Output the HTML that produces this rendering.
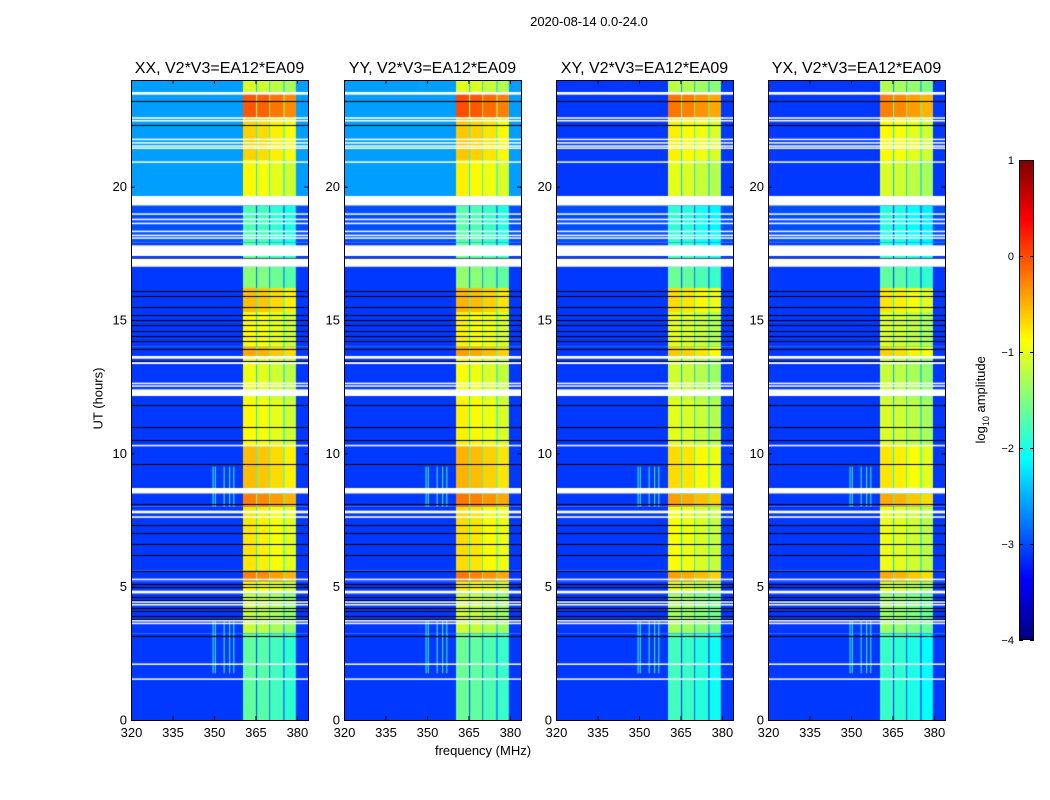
<!DOCTYPE html>
<html><head><meta charset="utf-8">
<style>
body{margin:0;background:#fff;width:1050px;height:800px;position:relative;overflow:hidden;font-family:"Liberation Sans",sans-serif;}
.t{position:absolute;white-space:nowrap;color:#000;}
canvas{position:absolute;}
</style></head><body>
<div class="t" style="left:489px;top:14px;width:200px;text-align:center;font-size:13px;">2020-08-14 0.0-24.0</div>
<div class="t" style="left:383px;top:743px;width:200px;text-align:center;font-size:13px;">frequency (MHz)</div>
<div class="t" style="left:48px;top:391px;width:100px;text-align:center;font-size:13px;transform:rotate(-90deg);">UT (hours)</div>
<div class="t" style="left:922px;top:391px;width:120px;text-align:center;font-size:13px;transform:rotate(-90deg);">log<sub style="font-size:9px">10</sub> amplitude</div>
<div id="root"></div>
<svg id="ov" width="1050" height="800" style="position:absolute;left:0;top:0"></svg>
<script>
// ---- data ----
const panelTitles=["XX, V2*V3=EA12*EA09","YY, V2*V3=EA12*EA09","XY, V2*V3=EA12*EA09","YX, V2*V3=EA12*EA09"];
const panelLefts=[131,344,556,768];
const panelBandShift=[0,0.05,-0.15,-0.2];
const panelTopBg=[-2.6,-2.6,-3.1,-3.1];
const segStart=[0,3.25,4.75,5.2,5.6,8.0,8.5,10.3,12.0,13.6,14.0,15.3,16.2,17.0,17.9,19.3,19.6,21.0,22.6,23.5];
const segEnd=[3.25,4.75,5.2,5.6,8.0,8.5,10.3,12.0,13.6,14.0,15.3,16.2,17.0,17.9,19.3,19.6,21.0,22.6,23.5,24];
const segBand=[-1.8,-1.3,-1.0,-0.4,-0.9,-0.4,-0.7,-1.0,-1.1,-0.6,-1.0,-0.7,-1.6,-1.8,-1.9,-1.9,-1.0,-0.8,-0.2,-1.2];
const segBg=[-3.1,-3.1,-3.1,-3.1,-3.1,-3.1,-3.1,-3.1,-3.1,-3.1,-3.1,-3.1,-3.1,-3.1,-3.0,-3.0,null,null,null,null];
const bandStart=[360.5,365.6,370.3,375.5];
const bandEnd=[365.2,370.0,375.1,379.6];
const bandOffset=[0.15,0.1,0,-0.1];
const whiteStart=[23.45,22.55,22.45,21.75,21.62,21.5,21.42,20.9,19.3,18.95,18.75,18.6,18.3,18.15,18.05,17.4,17.0,13.55,13.35,12.6,12.5,12.15,10.28,8.5,7.75,7.58,5.25,4.75,4.4,4.3,3.7,3.6,2.08,1.52];
const whiteEnd=[23.55,22.6,22.5,21.8,21.67,21.55,21.47,20.95,19.65,19.0,18.8,18.65,18.35,18.2,18.1,17.8,17.3,13.65,13.42,12.65,12.55,12.4,10.32,8.7,7.85,7.64,5.3,4.85,4.45,4.35,3.75,3.65,2.12,1.56];
const blackLines=[23.2,22.3,17.33,16.1,15.9,15.5,15.2,15.0,14.8,14.6,14.4,14.2,13.9,13.45,11.8,11.0,10.5,9.6,8.1,7.3,7.0,6.6,6.2,5.6,5.1,5.0,4.6,4.5,4.2,4.1,3.9,3.8,3.15];
const rfiFreq=[349.5,350.3,353.5,355.5,357.0];
const rfiStart=[8.0,1.75];
const rfiEnd=[9.5,3.7];
const yTicks=[0,5,10,15,20];
const xTicks=[320,335,350,365,380];
const cbTicks=[1,0,-1,-2,-3,-4];
// ---- scales ----
const TOP=80,H=640,W=177,FMIN=320,FMAX=384,VMIN=-4,VMAX=1;
const yS=h=>H-h*(H/24);
const xS=f=>(f-FMIN)*(W/(FMAX-FMIN));
function jet(v){let t=Math.max(0,Math.min(1,(v-VMIN)/(VMAX-VMIN)));
 const c=x=>Math.round(255*Math.max(0,Math.min(1,x)));
 return `rgb(${c(1.5-Math.abs(4*t-3))},${c(1.5-Math.abs(4*t-2))},${c(1.5-Math.abs(4*t-1))})`;}
const root=document.getElementById('root');
const ov=document.getElementById('ov');
const NS='http://www.w3.org/2000/svg';
function txt(x,y,s,anchor,size,name){const e=document.createElementNS(NS,'text');
 e.setAttribute('x',x);e.setAttribute('y',y);e.setAttribute('text-anchor',anchor);
 e.setAttribute('font-size',size);e.setAttribute('font-family','Liberation Sans, sans-serif');e.textContent=s;
 
 
 ov.appendChild(e);return e;}
function ln(x1,y1,x2,y2){const e=document.createElementNS(NS,'line');
 e.setAttribute('x1',x1);e.setAttribute('y1',y1);e.setAttribute('x2',x2);e.setAttribute('y2',y2);e.setAttribute('stroke','#000');
 ov.appendChild(e);return e;}
panelLefts.forEach((L,p)=>{
 const cv=document.createElement('canvas');cv.width=W;cv.height=H;
 cv.style.left=L+'px';cv.style.top=TOP+'px';
 
 
 root.appendChild(cv);
 const g=cv.getContext('2d');
 for(let s=0;s<segStart.length;s++){
  const y0=yS(segEnd[s]),y1=yS(segStart[s]);
  const bg=segBg[s]===null?panelTopBg[p]:segBg[s];
  g.fillStyle=jet(bg);g.fillRect(0,y0,W,y1-y0);
  const bl=segBand[s]+panelBandShift[p];
  g.fillStyle=jet(bl-1.2);g.fillRect(xS(bandStart[0]),y0,xS(bandEnd[3])-xS(bandStart[0]),y1-y0);
  for(let b=0;b<bandStart.length;b++){
   g.fillStyle=jet(bl+bandOffset[b]);
   g.fillRect(xS(bandStart[b]),y0,xS(bandEnd[b])-xS(bandStart[b]),y1-y0);
  }
 }
 for(let r=0;r<rfiStart.length;r++){rfiFreq.forEach(f=>{
  g.fillStyle=jet(-1.8);g.fillRect(xS(f),yS(rfiEnd[r]),1,yS(rfiStart[r])-yS(rfiEnd[r]));});}
 g.fillStyle='#000';blackLines.forEach(h=>g.fillRect(0,Math.round(yS(h)),W,1));
 g.fillStyle='#fff';
 for(let i=0;i<whiteStart.length;i++){const y0=yS(whiteEnd[i]),y1=yS(whiteStart[i]);g.fillRect(0,y0,W,Math.max(1.5,y1-y0));}
 const f=document.createElementNS(NS,'rect');f.setAttribute('x',L+0.5);f.setAttribute('y',TOP+0.5);
 f.setAttribute('width',W);f.setAttribute('height',H);f.setAttribute('fill','none');f.setAttribute('stroke','#000');
 
 
 ov.appendChild(f);
 yTicks.forEach(h=>{const y=TOP+yS(h)+0.5;ln(L,y,L+4,y);ln(L+W-4,y,L+W,y);
  txt(L-4,y+4,String(h),'end',13,'y-tick-label');});
 xTicks.forEach(v=>{const x=L+xS(v)+0.5;ln(x,TOP+H,x,TOP+H-4);ln(x,TOP,x,TOP+4);
  txt(x,TOP+H+17,String(v),'middle',13,'x-tick-label');});
 txt(L+W/2,TOP-7,panelTitles[p],'middle',16,'panel-title');
});
// colorbar
const cb=document.createElement('div');


cb.style.cssText='position:absolute;left:1019px;top:160px;width:15px;height:480px;border:1px solid #000;box-sizing:border-box;background:linear-gradient(to bottom,#800000 0%,#ff0000 12.5%,#ffff00 37.5%,#00ffff 62.5%,#0000ff 87.5%,#000080 100%);';
root.appendChild(cb);
cbTicks.forEach(v=>{const y=160+(VMAX-v)/(VMAX-VMIN)*480;
 ln(1019,y+0.5,1023,y+0.5);ln(1030,y+0.5,1034,y+0.5);
 txt(1014,y+4,v<0?'\u2212'+(-v):String(v),'end',11,'colorbar-tick-label');});
</script>
</body></html>
